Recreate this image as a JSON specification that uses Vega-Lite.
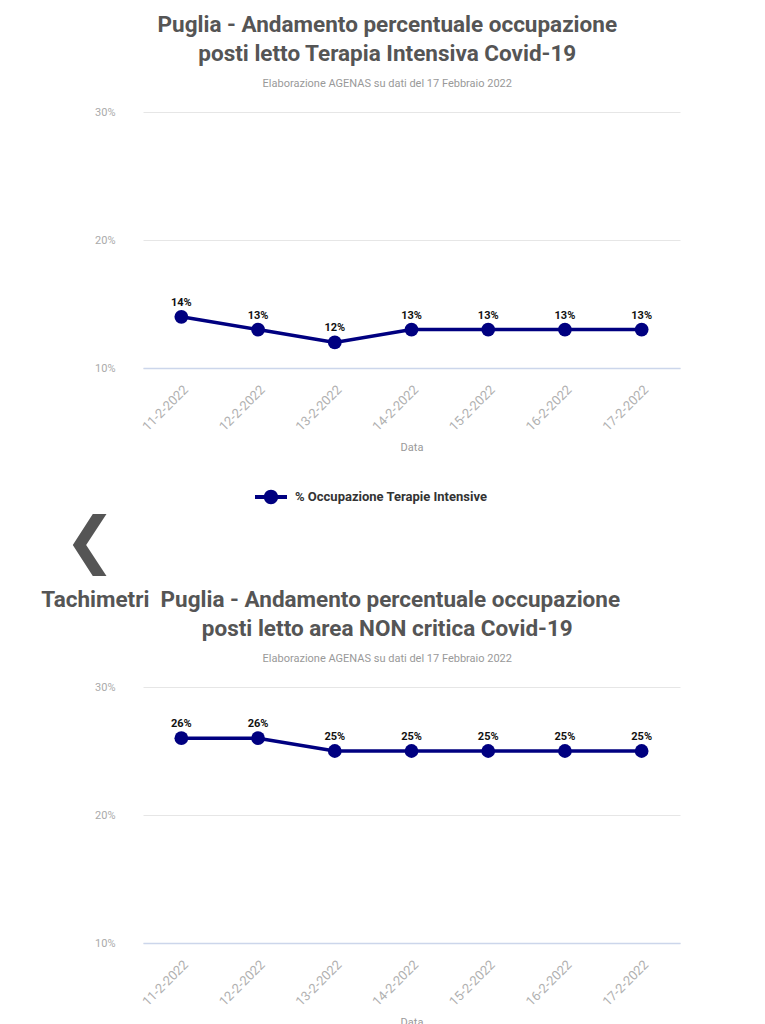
{
  "$schema": "https://vega.github.io/schema/vega-lite/v6.json",
  "background": "white",
  "padding": {"left": 41, "top": 13, "right": 0, "bottom": 0},
  "spacing": 6,
  "resolve": {"scale": {"color": "independent"}},
  "vconcat": [
    {
      "title": {
        "text": ["Puglia - Andamento percentuale occupazione", "posti letto Terapia Intensiva Covid-19"],
        "subtitle": "Elaborazione AGENAS su dati del 17 Febbraio 2022"
      },
      "width": 537,
      "height": 256,
      "data": {"values": [
        {"data": "11-2-2022", "pct": 0.14, "serie": "% Occupazione Terapie Intensive"},
        {"data": "12-2-2022", "pct": 0.13, "serie": "% Occupazione Terapie Intensive"},
        {"data": "13-2-2022", "pct": 0.12, "serie": "% Occupazione Terapie Intensive"},
        {"data": "14-2-2022", "pct": 0.13, "serie": "% Occupazione Terapie Intensive"},
        {"data": "15-2-2022", "pct": 0.13, "serie": "% Occupazione Terapie Intensive"},
        {"data": "16-2-2022", "pct": 0.13, "serie": "% Occupazione Terapie Intensive"},
        {"data": "17-2-2022", "pct": 0.13, "serie": "% Occupazione Terapie Intensive"}
      ]},
      "encoding": {
        "x": {"field": "data", "type": "ordinal", "sort": null, "scale": {"type": "point", "padding": 0.5}, "title": "Data"},
        "y": {"field": "pct", "type": "quantitative", "scale": {"domain": [0.1, 0.3], "nice": false, "zero": false}, "title": null,
              "axis": {"values": [0.1, 0.2, 0.3], "format": ".0%"}}
      },
      "layer": [
        {"mark": {"type": "line", "strokeWidth": 3.5, "color": "#000080"},
         "encoding": {"color": {"field": "serie", "type": "nominal", "scale": {"range": ["#000080"]},
           "legend": {"title": null, "orient": "none", "legendX": 112, "legendY": 369, "direction": "horizontal",
             "symbolType": "M-1,-0.12L1,-0.12L1,0.12L-1,0.12Z M0.45,0A0.45,0.45 0 1 1 -0.45,0A0.45,0.45 0 1 1 0.45,0Z",
             "symbolSize": 1024, "symbolStrokeWidth": 0, "symbolFillColor": "#000080", "symbolOpacity": 1,
             "labelFontSize": 13, "labelFontWeight": "bold", "labelColor": "#333", "labelFont": "Roboto", "labelLimit": 0, "labelOffset": 8}}}},
        {"mark": {"type": "point", "filled": true, "size": 190, "opacity": 1, "color": "#000080"}},
        {"mark": {"type": "text", "dy": -14, "fontWeight": "bold", "fontSize": 11, "color": "#111", "font": "Roboto"},
         "encoding": {"text": {"field": "pct", "type": "quantitative", "format": ".0%"}}}
      ]
    },
    {
      "title": {"text": "❮", "anchor": "start", "frame": "group", "dx": -79, "fontSize": 62, "font": "DejaVu Sans", "fontWeight": "bold", "color": "#555", "offset": 0},
      "width": 537,
      "height": 8,
      "data": {"values": []},
      "mark": {"type": "point", "opacity": 0}
    },
    {
      "title": {
        "text": ["Tachimetri\u00a0\u00a0Puglia - Andamento percentuale occupazione\u00a0\u00a0\u2800\u2800\u2800\u2800\u2800\u2800", "posti letto area NON critica Covid-19"],
        "subtitle": "Elaborazione AGENAS su dati del 17 Febbraio 2022"
      },
      "width": 537,
      "height": 256,
      "data": {"values": [
        {"data": "11-2-2022", "pct": 0.26},
        {"data": "12-2-2022", "pct": 0.26},
        {"data": "13-2-2022", "pct": 0.25},
        {"data": "14-2-2022", "pct": 0.25},
        {"data": "15-2-2022", "pct": 0.25},
        {"data": "16-2-2022", "pct": 0.25},
        {"data": "17-2-2022", "pct": 0.25}
      ]},
      "encoding": {
        "x": {"field": "data", "type": "ordinal", "sort": null, "scale": {"type": "point", "padding": 0.5}, "title": "Data"},
        "y": {"field": "pct", "type": "quantitative", "scale": {"domain": [0.1, 0.3], "nice": false, "zero": false}, "title": null,
              "axis": {"values": [0.1, 0.2, 0.3], "format": ".0%"}}
      },
      "layer": [
        {"mark": {"type": "line", "strokeWidth": 3.5, "color": "#000080"}},
        {"mark": {"type": "point", "filled": true, "size": 190, "opacity": 1, "color": "#000080"}},
        {"mark": {"type": "text", "dy": -14, "fontWeight": "bold", "fontSize": 11, "color": "#111", "font": "Roboto"},
         "encoding": {"text": {"field": "pct", "type": "quantitative", "format": ".0%"}}}
      ]
    }
  ],
  "config": {
    "font": "Roboto",
    "view": {"stroke": null},
    "title": {"font": "Roboto", "fontSize": 22.5, "fontWeight": "bold", "color": "#555", "lineHeight": 29,
              "subtitleFont": "Roboto", "subtitleFontSize": 11, "subtitleColor": "#999", "subtitlePadding": 13,
              "offset": 17, "anchor": "middle", "frame": "bounds"},
    "axisX": {"labelAngle": -45, "labelColor": "#b0b0b0", "labelFontSize": 13, "labelPadding": 15, "ticks": false, "tickSize": 0,
              "domain": true, "domainColor": "#ccd6eb", "domainWidth": 1.5, "grid": false,
              "titleColor": "#999", "titleFontSize": 11, "titleFontWeight": "normal", "titlePadding": 8},
    "axisY": {"labelColor": "#aaa", "labelFontSize": 11, "labelPadding": 28, "ticks": false, "tickSize": 0, "domain": false,
              "grid": true, "gridColor": "#e6e6e6", "gridWidth": 1}
  }
}
